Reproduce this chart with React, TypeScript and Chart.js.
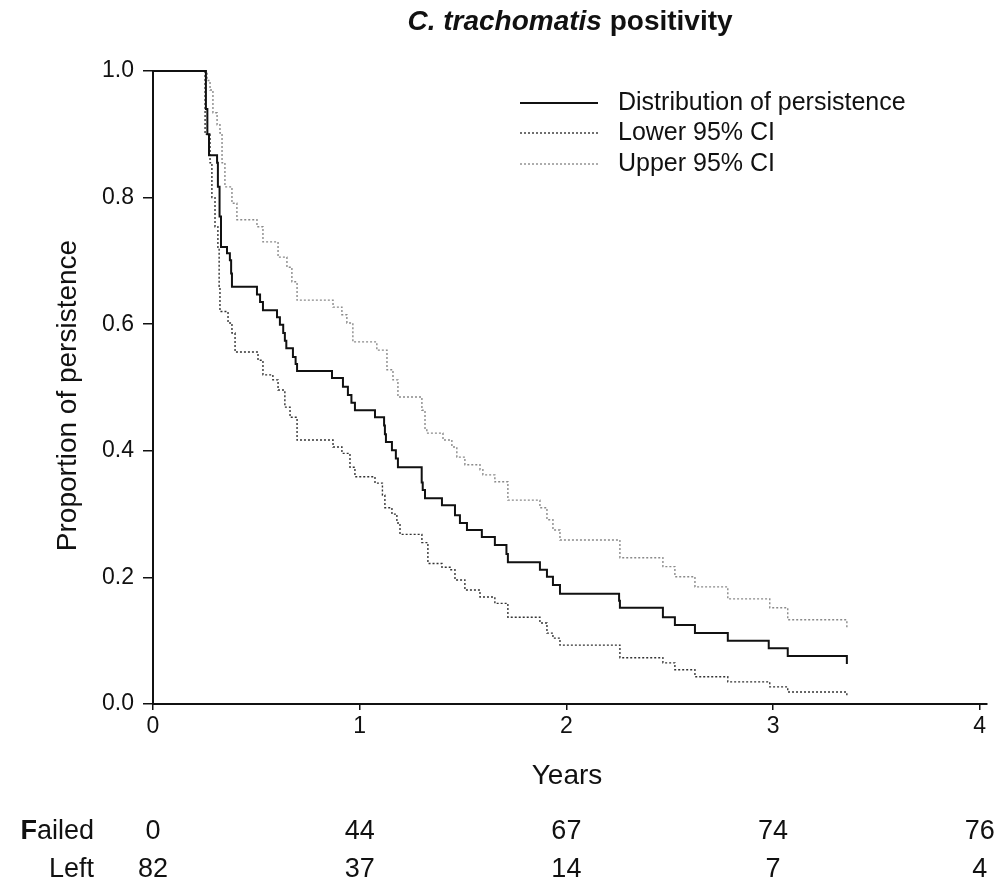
import React, { useEffect, useRef } from "react";
import { Chart, registerables } from "chart.js";

Chart.register(...registerables);

const FONT = '"Liberation Sans", Arial, sans-serif';

const titleItalic = "C. trachomatis";
const titleNormal = " positivity";
const xAxisTitle = "Years";
const yAxisTitle = "Proportion of persistence";

const xTickValues = [0, 1, 2, 3, 4];
const yTickValues = [0, 0.2, 0.4, 0.6, 0.8, 1.0];

const seriesLabels = ["Distribution of persistence", "Lower 95% CI", "Upper 95% CI"];

const persistenceTimes = [0, 0.256, 0.263, 0.271, 0.31, 0.314, 0.322, 0.329, 0.358, 0.372, 0.378, 0.382, 0.503, 0.518, 0.532, 0.6, 0.614, 0.63, 0.638, 0.645, 0.677, 0.69, 0.697, 0.866, 0.919, 0.943, 0.96, 0.977, 1.074, 1.118, 1.122, 1.127, 1.156, 1.175, 1.185, 1.3, 1.305, 1.316, 1.398, 1.461, 1.485, 1.519, 1.591, 1.654, 1.71, 1.717, 1.872, 1.906, 1.935, 1.969, 2.255, 2.259, 2.467, 2.525, 2.622, 2.781, 2.979, 3.071, 3.357];
const persistenceValues = [1, 0.94, 0.9, 0.867, 0.855, 0.817, 0.77, 0.722, 0.712, 0.701, 0.68, 0.659, 0.647, 0.635, 0.622, 0.611, 0.599, 0.586, 0.574, 0.562, 0.548, 0.537, 0.526, 0.515, 0.501, 0.488, 0.476, 0.464, 0.453, 0.44, 0.426, 0.414, 0.401, 0.388, 0.374, 0.35, 0.338, 0.325, 0.314, 0.298, 0.286, 0.275, 0.264, 0.251, 0.237, 0.224, 0.212, 0.201, 0.188, 0.174, 0.163, 0.152, 0.137, 0.125, 0.112, 0.1, 0.088, 0.076, 0.063];

const lowerTimes = [0, 0.252, 0.276, 0.285, 0.3, 0.314, 0.32, 0.324, 0.363, 0.382, 0.397, 0.508, 0.532, 0.58, 0.605, 0.638, 0.663, 0.697, 0.871, 0.914, 0.953, 0.977, 1.074, 1.11, 1.122, 1.156, 1.18, 1.195, 1.301, 1.33, 1.398, 1.437, 1.461, 1.509, 1.582, 1.654, 1.717, 1.872, 1.906, 1.935, 1.969, 2.259, 2.467, 2.525, 2.622, 2.781, 2.984, 3.071, 3.357];
const lowerValues = [1, 0.9, 0.855, 0.8, 0.754, 0.72, 0.66, 0.62, 0.602, 0.586, 0.556, 0.543, 0.52, 0.512, 0.496, 0.469, 0.453, 0.417, 0.406, 0.396, 0.374, 0.359, 0.349, 0.33, 0.31, 0.3, 0.286, 0.268, 0.255, 0.222, 0.216, 0.212, 0.196, 0.18, 0.169, 0.159, 0.137, 0.128, 0.112, 0.104, 0.093, 0.073, 0.065, 0.054, 0.043, 0.035, 0.027, 0.019, 0.011];

const upperTimes = [0, 0.262, 0.276, 0.29, 0.31, 0.324, 0.334, 0.348, 0.382, 0.406, 0.503, 0.532, 0.605, 0.648, 0.672, 0.697, 0.871, 0.914, 0.938, 0.967, 1.083, 1.132, 1.161, 1.185, 1.301, 1.316, 1.325, 1.403, 1.446, 1.47, 1.509, 1.582, 1.596, 1.654, 1.717, 1.872, 1.906, 1.935, 1.969, 2.259, 2.467, 2.525, 2.622, 2.781, 2.984, 3.071, 3.357];
const upperValues = [1, 0.985, 0.97, 0.934, 0.915, 0.902, 0.855, 0.817, 0.791, 0.765, 0.754, 0.73, 0.706, 0.69, 0.667, 0.638, 0.627, 0.615, 0.602, 0.572, 0.559, 0.528, 0.512, 0.485, 0.464, 0.433, 0.428, 0.417, 0.406, 0.39, 0.378, 0.37, 0.362, 0.351, 0.322, 0.31, 0.291, 0.275, 0.259, 0.231, 0.217, 0.201, 0.185, 0.166, 0.152, 0.133, 0.12];

const riskTimes = [0, 1, 2, 3, 4];
const failedCounts = [0, 44, 67, 74, 76];
const leftCounts = [82, 37, 14, 7, 4];

const toPoints = (t: number[], v: number[]) => t.map((x, i) => ({ x, y: v[i] }));

const styles = [
  { color: "#111111", width: 2, dash: [] as number[] },
  { color: "#333333", width: 1.4, dash: [2, 2] },
  { color: "#8a8a8a", width: 1.4, dash: [2, 2] },
];

const textPlugin = {
  id: "texts",
  afterDraw(chart: any) {
    const ctx = chart.ctx as CanvasRenderingContext2D;
    const xs = chart.scales.x;
    const area = chart.chartArea;
    ctx.save();
    ctx.fillStyle = "#111";
    ctx.textBaseline = "middle";

    // Title
    const tf = 28;
    ctx.font = `italic bold ${tf}px ${FONT}`;
    const w1 = ctx.measureText(titleItalic).width;
    ctx.font = `bold ${tf}px ${FONT}`;
    const w2 = ctx.measureText(titleNormal).width;
    const tx = 570 - (w1 + w2) / 2;
    ctx.textAlign = "left";
    ctx.font = `italic bold ${tf}px ${FONT}`;
    ctx.fillText(titleItalic, tx, 22);
    ctx.font = `bold ${tf}px ${FONT}`;
    ctx.fillText(titleNormal, tx + w1, 22);

    // Legend
    const legendY = [103, 133, 164];
    seriesLabels.forEach((lbl, i) => {
      const st = styles[i];
      ctx.beginPath();
      ctx.strokeStyle = st.color;
      ctx.lineWidth = st.width;
      ctx.setLineDash(st.dash);
      ctx.moveTo(520, legendY[i]);
      ctx.lineTo(598, legendY[i]);
      ctx.stroke();
      ctx.setLineDash([]);
      ctx.font = `25px ${FONT}`;
      ctx.fillStyle = "#111";
      ctx.textAlign = "left";
      ctx.fillText(lbl, 618, legendY[i]);
    });

    // Axis titles
    ctx.font = `28px ${FONT}`;
    ctx.textAlign = "center";
    ctx.fillText(xAxisTitle, 567, 776);
    ctx.save();
    ctx.translate(68, (area.top + area.bottom) / 2 + 8);
    ctx.rotate(-Math.PI / 2);
    ctx.fillText(yAxisTitle, 0, 0);
    ctx.restore();

    // Numbers at risk
    const rf = 27;
    ctx.font = `bold ${rf}px ${FONT}`;
    const fw = ctx.measureText("F").width;
    ctx.font = `${rf}px ${FONT}`;
    const rw = ctx.measureText("ailed").width;
    ctx.textAlign = "left";
    ctx.font = `bold ${rf}px ${FONT}`;
    ctx.fillText("F", 94 - rw - fw, 832);
    ctx.font = `${rf}px ${FONT}`;
    ctx.fillText("ailed", 94 - rw, 832);
    ctx.textAlign = "right";
    ctx.fillText("Left", 94, 870);
    ctx.textAlign = "center";
    riskTimes.forEach((t, i) => {
      const px = xs.getPixelForValue(t);
      ctx.fillText(String(failedCounts[i]), px, 832);
      ctx.fillText(String(leftCounts[i]), px, 870);
    });
    ctx.restore();
  },
};

export default function App() {
  const ref = useRef<HTMLCanvasElement | null>(null);
  useEffect(() => {
    if (!ref.current) return;
    const data = [
      toPoints(persistenceTimes, persistenceValues),
      toPoints(lowerTimes, lowerValues),
      toPoints(upperTimes, upperValues),
    ];
    const chart = new Chart(ref.current, {
      type: "line",
      data: {
        datasets: data.map((d, i) => ({
          label: seriesLabels[i],
          data: d,
          borderColor: styles[i].color,
          borderWidth: styles[i].width,
          borderDash: styles[i].dash,
          stepped: "before",
          pointRadius: 0,
          fill: false,
          clip: false,
        })),
      } as any,
      options: {
        animation: false,
        responsive: false,
        layout: { padding: { top: 71, right: 14, bottom: 146, left: 0 } },
        plugins: { legend: { display: false }, title: { display: false }, tooltip: { enabled: false } },
        scales: {
          x: {
            type: "linear",
            min: 0,
            max: 4.035,
            afterBuildTicks: (s: any) => {
              s.ticks = xTickValues.map((v) => ({ value: v }));
            },
            afterFit: (s: any) => {
              s.height = 40;
            },
            grid: { drawOnChartArea: false, drawTicks: true, tickLength: 6, color: "#111", lineWidth: 1.5 },
            border: { display: true, color: "#111", width: 2 },
            ticks: {
              font: { family: FONT, size: 23 },
              color: "#111",
              padding: 3,
              maxRotation: 0,
              autoSkip: false,
              callback: (v: any) => String(v),
            },
          },
          y: {
            type: "linear",
            min: 0,
            max: 1,
            afterBuildTicks: (s: any) => {
              s.ticks = yTickValues.map((v) => ({ value: v }));
            },
            afterFit: (s: any) => {
              s.width = 153;
            },
            grid: { drawOnChartArea: false, drawTicks: true, tickLength: 10, color: "#111", lineWidth: 1.5 },
            border: { display: true, color: "#111", width: 2 },
            ticks: {
              font: { family: FONT, size: 23 },
              color: "#111",
              padding: 9,
              callback: (v: any) => Number(v).toFixed(1),
            },
          },
        },
      } as any,
      plugins: [textPlugin],
    });
    return () => chart.destroy();
  }, []);
  return (
    <div style={{ position: "fixed", left: 0, top: 0, width: 1001, height: 890, background: "#fff" }}>
      <canvas ref={ref} width={1001} height={890} style={{ width: 1001, height: 890, display: "block" }} />
    </div>
  );
}
